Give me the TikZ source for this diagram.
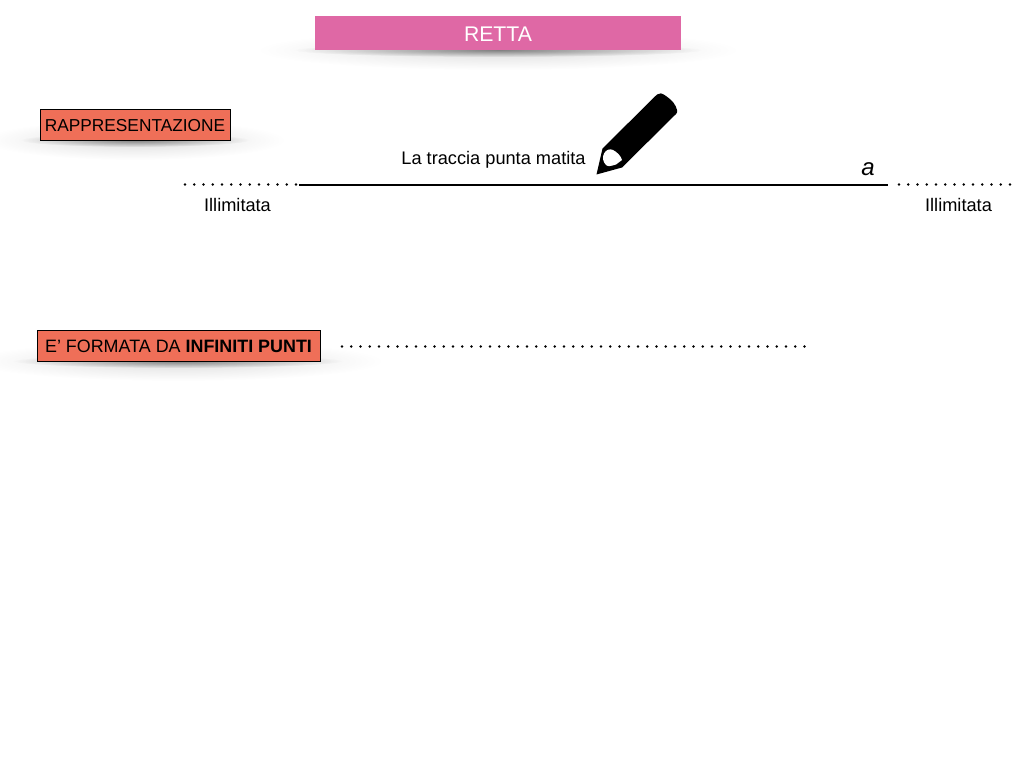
\documentclass[tikz,border=0pt]{standalone}
\usepackage{fontspec}
\setmainfont{Liberation Sans}
\usetikzlibrary{positioning,fadings}
\definecolor{titlepink}{HTML}{DF68A5}
\definecolor{boxred}{HTML}{EF6F58}
\tikzfading[name=softfade,inner color=transparent!0,outer color=transparent!100]
\begin{document}
\begin{tikzpicture}
		[x=1pt,y=-1pt,
		titlebox/.style={fill=titlepink,text=white,inner sep=0pt,text height=17.4pt,text depth=0pt,font=\fontsize{21.2}{24}\selectfont},
		headbox/.style={draw=black,fill=boxred,inner sep=0pt,text height=14.5pt,text depth=0pt,font=\fontsize{17.3}{20}\selectfont},
		caption/.style={inner sep=0pt,font=\fontsize{18.2}{21}\selectfont},
		glow/.style={black,opacity=.13,path fading=softfade},
		rim/.style={black,opacity=.42,path fading=softfade},
		dots/.style={line width=2.6pt,line cap=round,dash pattern=on 0pt off 9.25pt}]
		\useasboundingbox (0,0) rectangle (1024,768);

		% soft shadows below the boxes
		\fill[glow] (498,50) ellipse (240 and 20);
		\fill[rim] (498,50) ellipse (205 and 7);
		\fill[glow] (135,140) ellipse (150 and 20);
		\fill[rim] (135,140) ellipse (115 and 7);
		\fill[glow] (178,361) ellipse (205 and 20);
		\fill[rim] (178,361) ellipse (165 and 7);

		% the boxes
		\node [titlebox,minimum width=366pt,minimum height=34pt] (title) at (498,33) {RETTA};
		\node [headbox,minimum width=189.5pt,minimum height=31pt] (repr) at (135,124.5) {RAPPRESENTAZIONE};
		\node [headbox,minimum width=282.5pt,minimum height=31pt,font=\fontsize{17.9}{20}\selectfont] (points) at (178.5,345.5) {E’ FORMATA DA \textbf{INFINITI PUNTI}};

		% the line and its dotted ends
		\coordinate (lineL) at (299,184.5);
		\coordinate (lineR) at (888,184.5);
		\draw [line width=2pt] (lineL) -- (lineR);
		\coordinate (dotsLa) at (185,184.5);
		\coordinate (dotsLb) at (296,184.5);
		\coordinate (dotsRa) at (899,184.5);
		\coordinate (dotsRb) at (1010,184.5);
		\draw [dots] (dotsLa) -- (dotsLb);
		\draw [dots] (dotsRa) -- (dotsRb);
		\node [caption] (trace) at (493.5,160) {La traccia punta matita};
		\node [caption,font=\fontsize{24}{28}\selectfont\itshape] (name) at (868,169) {a};
		\node [caption] (limL) at (237.5,205) {Illimitata};
		\node [caption] (limR) at (958.5,205) {Illimitata};

		% the row of points
		\coordinate (rowa) at (342,346.5);
		\coordinate (rowb) at (807,346.5);
		\draw [dots] (rowa) -- (rowb);

		% the pencil
		\fill (596.5,174.5) -- (602.5,148.5) -- (657,94.5)
			.. controls (659,92.5) and (662,93) .. (666,96)
			.. controls (672,100) and (676,105) .. (677,110)
			.. controls (677.5,112) and (677,113) .. (676,114)
			-- (622,167.5) -- cycle;
		\fill [white] (604,153.5)
			.. controls (606,149.5) and (610,148.5) .. (613,150)
			.. controls (617,152) and (621,156) .. (622,160)
			-- (616,164.5)
			.. controls (611,166) and (608,167) .. (606,165)
			.. controls (603,162) and (602,157) .. (604,153.5) -- cycle;
	\end{tikzpicture}
\end{document}
